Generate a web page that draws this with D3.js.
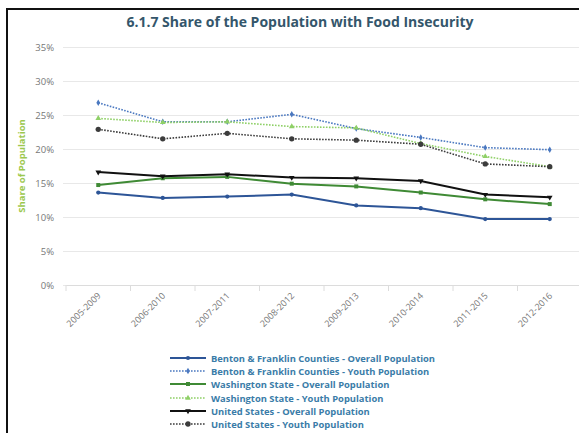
<!DOCTYPE html>
<html><head><meta charset="utf-8">
<script src="https://cdn.jsdelivr.net/npm/d3@7"></script>
<style>body{margin:0;background:#fff;}svg{display:block;}</style>
</head><body>
<script>
const categories = ["2005-2009","2006-2010","2007-2011","2008-2012","2009-2013","2010-2014","2011-2015","2012-2016"];
const bfOverall = [13.6,12.8,13.0,13.3,11.7,11.3,9.7,9.7];
const bfYouth   = [26.8,24.0,24.0,25.1,23.0,21.7,20.2,19.9];
const waOverall = [14.7,15.7,15.9,14.9,14.5,13.6,12.6,11.9];
const waYouth   = [24.5,23.9,24.0,23.3,23.1,20.8,18.9,17.4];
const usOverall = [16.6,16.0,16.3,15.8,15.7,15.3,13.3,12.9];
const usYouth   = [22.9,21.5,22.3,21.5,21.3,20.7,17.8,17.4];
const yTicks = [0,5,10,15,20,25,30,35];
const seriesNames = ["Benton & Franklin Counties - Overall Population","Benton & Franklin Counties - Youth Population","Washington State - Overall Population","Washington State - Youth Population","United States - Overall Population","United States - Youth Population"];
const seriesValues = [bfOverall,bfYouth,waOverall,waYouth,usOverall,usYouth];
const seriesColors = ["#2d5597","#4a78c0","#3f8a35","#8fd067","#111111","#3c3c3c"];
const seriesDashed = [false,true,false,true,false,true];
const seriesSymbols = [d3.symbolCircle,d3.symbolDiamond,d3.symbolSquare,d3.symbolTriangle,d3.symbolTriangle,d3.symbolCircle];
const symbolSizes = [14,12,16,14,14,22];
const symbolRot = [0,0,0,0,180,0];

const W=579,H=433;
const svg=d3.select("body").append("svg").attr("width",W).attr("height",H);
svg.append("rect").attr("width",W).attr("height",H).attr("fill","#fff");
svg.append("path").attr("d","M7,433V9H579").attr("fill","none").attr("stroke","#111").attr("stroke-width",2);

const x=d3.scaleBand().domain(categories).range([66,66+8*64.5]);
const y=d3.scaleLinear().domain([0,35]).range([285,47]);
const cx=c=>x(c)+x.bandwidth()/2;

svg.append("text").attr("x",300).attr("y",27).attr("text-anchor","middle")
 .attr("font-family","Open Sans, sans-serif").attr("font-weight","bold").attr("font-size",14)
 .attr("fill","#34566b").text("6.1.7 Share of the Population with Food Insecurity");

const yAxis=d3.axisLeft(y).tickValues(yTicks).tickFormat(d=>d+"%").tickSize(-(W-63)).tickPadding(9);
const gy=svg.append("g").attr("transform","translate(63,0)").call(yAxis);
gy.select(".domain").remove();
gy.selectAll(".tick line").attr("stroke","#e8e8e8");
gy.selectAll(".tick text").attr("fill","#777").attr("font-size",9.5).attr("font-family","Open Sans, sans-serif");

const xAxis=d3.axisBottom(x).tickSize(0);
const gx=svg.append("g").attr("transform","translate(0,285)").call(xAxis);
gx.select(".domain").attr("stroke","#dcdcdc");
gx.selectAll(".tick text").attr("fill","#777").attr("font-size",9).attr("font-family","Open Sans, sans-serif")
 .attr("text-anchor","end").attr("x",0).attr("y",0).attr("dy","0.35em")
 .attr("transform","translate(1,9) rotate(-45)");
gx.selectAll(".bt").data(categories).enter().append("line")
 .attr("x1",d=>x(d)).attr("x2",d=>x(d)).attr("y1",0).attr("y2",6).attr("stroke","#dcdcdc");

svg.append("text").attr("transform","translate(25,166) rotate(-90)").attr("text-anchor","middle")
 .attr("font-family","Open Sans, sans-serif").attr("font-weight","bold").attr("font-size",9.5)
 .attr("fill","#9cc84e").text("Share of Population");

const line=d3.line().x((d,i)=>cx(categories[i])).y(d=>y(d));
seriesValues.forEach((vals,s)=>{
  const g=svg.append("g");
  g.append("path").attr("d",line(vals)).attr("fill","none").attr("stroke",seriesColors[s])
   .attr("stroke-width",seriesDashed[s]?1.6:2).attr("stroke-dasharray",seriesDashed[s]?"1.6,1.4":null);
  g.selectAll("path.m").data(vals).enter().append("path").attr("class","m")
   .attr("d",d3.symbol().type(seriesSymbols[s]).size(symbolSizes[s]))
   .attr("transform",(d,i)=>`translate(${cx(categories[i])},${y(d)}) rotate(${symbolRot[s]})`)
   .attr("fill",seriesColors[s]);
});

const ly=[358,371,384,398,411,424];
seriesNames.forEach((n,s)=>{
  const g=svg.append("g").attr("transform",`translate(0,${ly[s]})`);
  g.append("line").attr("x1",170).attr("x2",206).attr("y1",0).attr("y2",0).attr("stroke",seriesColors[s])
   .attr("stroke-width",seriesDashed[s]?1.6:2).attr("stroke-dasharray",seriesDashed[s]?"1.6,1.4":null);
  g.append("path").attr("d",d3.symbol().type(seriesSymbols[s]).size(symbolSizes[s]))
   .attr("transform",`translate(188,0) rotate(${symbolRot[s]})`).attr("fill",seriesColors[s]);
  g.append("text").attr("x",211).attr("y",3.5).attr("font-family","Open Sans, sans-serif").attr("font-weight","bold")
   .attr("font-size",9.4).attr("fill","#3a7ca8").text(n);
});
</script>
</body></html>
